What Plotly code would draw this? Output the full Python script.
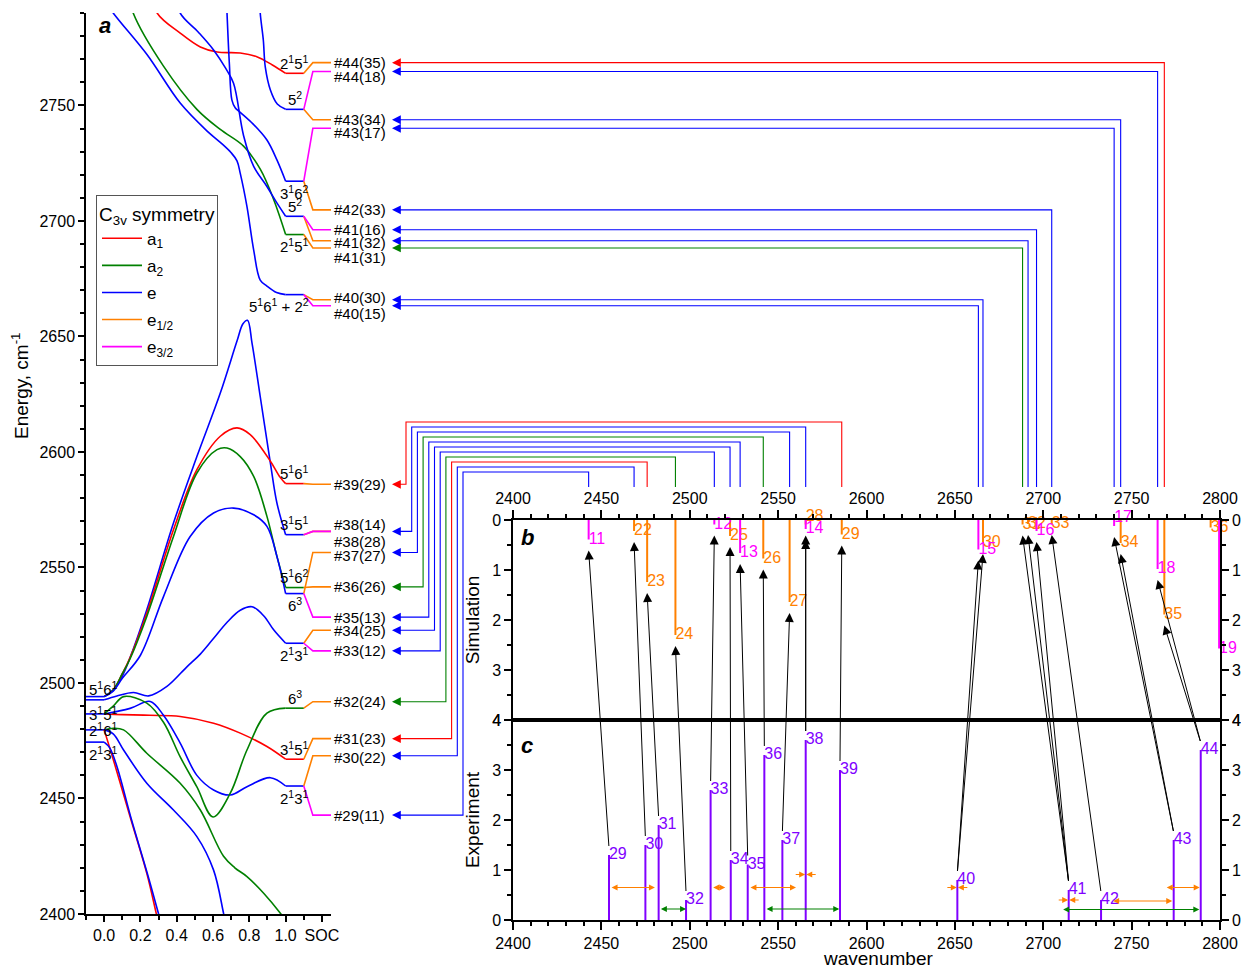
import plotly.graph_objects as go

W, H = 1249, 969      # browser window
OFF = 8               # default page margin of the html body

# ------------------------------------------------------------------
# DATA
# ------------------------------------------------------------------
SYM_COLOR = {'a1': '#FF0000', 'a2': '#008000', 'e': '#0000FF',
             'e1/2': '#FF8000', 'e3/2': '#FF00FF'}
EXP_COLOR = '#8000FF'

# Panel a : zero-order levels at the left edge (x = 0)
START_E = [2494.1, 2492.7, 2486.6, 2479.7, 2474.4]
START_LABEL = ['5<sup>1</sup>6<sup>1</sup>', '', '3<sup>1</sup>5<sup>1</sup>',
               '2<sup>1</sup>6<sup>1</sup>', '2<sup>1</sup>3<sup>1</sup>']
START_LABEL_SHIFT = [8, 0, 0, 0, -11]

# Panel a : correlation curves (x = coupling parameter, E = energy / cm-1)
UB1_X = [0.0, 0.05, 0.236, 0.419, 0.566, 0.64, 0.70, 0.732, 0.75, 0.787, 0.824, 0.86, 0.897, 0.95, 1.0]
UB1_E = [2796, 2790, 2772, 2751, 2739, 2734, 2729.5, 2726, 2720.6, 2706.2, 2687.4, 2674.4, 2671.8, 2669, 2668.1]
UB3_X = [0.672, 0.677, 0.69, 0.704, 0.722, 0.75, 0.82, 0.897, 0.952, 1.0]
UB3_E = [2800, 2790, 2768, 2752.3, 2749, 2747, 2742, 2735, 2726.4, 2717.2]
UB2_X = [0.39, 0.419, 0.518, 0.603, 0.67, 0.713, 0.768, 0.824, 0.897, 0.95, 1.0]
UB2_E = [2800, 2790, 2781.8, 2774, 2766, 2759.6, 2737, 2723.6, 2714.9, 2708, 2702.0]
UB4_X = [0.855, 0.86, 0.877, 0.888, 0.916, 0.954, 1.0]
UB4_E = [2800, 2790, 2778.3, 2766.6, 2756.7, 2750.6, 2748.3]
UG_X = [0.13, 0.16, 0.327, 0.511, 0.64, 0.768, 0.861, 0.934, 1.0]
UG_E = [2800, 2790, 2767, 2748.3, 2739.6, 2732.4, 2722.3, 2709.3, 2694.1]
UR_X = [0.26, 0.292, 0.419, 0.53, 0.623, 0.75, 0.844, 0.927, 1.0]
UR_E = [2800, 2790, 2781.3, 2775.3, 2773.1, 2772.7, 2771, 2767.5, 2763.9]

LB1_X = [0.0, 0.05, 0.1, 0.143, 0.235, 0.382, 0.511, 0.64, 0.732, 0.765, 0.79, 0.815, 0.86, 0.916, 0.952, 1.0]
LB1_E = [2494.1, 2497, 2503, 2511, 2531.7, 2569.2, 2598, 2625.5, 2648, 2655.5, 2657, 2647, 2624, 2595.2, 2577.9, 2564.2]
LR_X = [0.0, 0.05, 0.1, 0.143, 0.235, 0.382, 0.511, 0.64, 0.732, 0.805, 0.916, 0.97, 1.0]
LR_E = [2494.1, 2497, 2504, 2511, 2530.2, 2566.3, 2592.3, 2606.8, 2610.4, 2607.5, 2596, 2589, 2586.3]
LG_X = [0.0, 0.05, 0.1, 0.143, 0.235, 0.382, 0.511, 0.622, 0.677, 0.75, 0.824, 0.897, 0.952, 1.0]
LG_E = [2494.1, 2497, 2504, 2510.5, 2528.8, 2563.4, 2590.9, 2601, 2601.7, 2598, 2589.4, 2572.1, 2554.8, 2541.3]
LB2_X = [0.0, 0.05, 0.1, 0.2, 0.327, 0.474, 0.603, 0.713, 0.824, 0.897, 0.952, 1.0]
LB2_E = [2494.1, 2496.5, 2502, 2512, 2537.4, 2563.4, 2573.6, 2575.7, 2572.8, 2567.8, 2554.8, 2538.7]
LB3_X = [0.0, 0.07, 0.162, 0.245, 0.346, 0.456, 0.53, 0.6, 0.68, 0.75, 0.815, 0.88, 0.934, 1.0]
LB3_E = [2492.7, 2494.4, 2495.9, 2494.4, 2498.5, 2507, 2512.5, 2519, 2526.5, 2531.5, 2533, 2529, 2523, 2517.2]
LRF_X = [0.0, 0.1, 0.25, 0.419, 0.603, 0.75, 0.897, 1.0]
LRF_E = [2486.6, 2486.3, 2486, 2485.5, 2482.6, 2478.3, 2472.5, 2467.0]
LBW_X = [0.0, 0.143, 0.254, 0.327, 0.419, 0.511, 0.603, 0.695, 0.787, 0.916, 1.0]
LBW_E = [2486.6, 2489, 2492, 2486, 2474, 2460, 2453.7, 2451.5, 2455.1, 2459, 2455.4]
LGV_X = [0.0, 0.05, 0.107, 0.235, 0.327, 0.419, 0.511, 0.6, 0.695, 0.787, 0.897, 1.0]
LGV_E = [2486.6, 2490, 2494.1, 2491.3, 2483, 2468, 2455, 2442, 2452.3, 2471, 2486.9, 2489.1]
LGD_X = [0.0, 0.051, 0.107, 0.235, 0.419, 0.53, 0.658, 0.72, 0.787, 0.879, 0.971, 1.0]
LGD_E = [2479.7, 2480.4, 2479.7, 2469.6, 2456.6, 2445, 2425, 2420, 2416.2, 2409, 2400.3, 2397]
LBM_X = [0.0, 0.05, 0.107, 0.235, 0.382, 0.511, 0.603, 0.658, 0.68]
LBM_E = [2479.7, 2478, 2471, 2456.6, 2445, 2433.5, 2419, 2400.3, 2392]
LRS_X = [0.0, 0.051, 0.143, 0.235, 0.287, 0.3]
LRS_E = [2479.7, 2466.7, 2442.1, 2417.6, 2400.3, 2396]
LBS_X = [0.0, 0.03, 0.07, 0.15, 0.24, 0.3, 0.31]
LBS_E = [2474.4, 2472, 2464, 2441, 2417, 2400, 2397]

CURVES = [('e', UB1_X, UB1_E), ('a2', UG_X, UG_E), ('a1', UR_X, UR_E),
          ('e', UB2_X, UB2_E), ('e', UB3_X, UB3_E), ('e', UB4_X, UB4_E),
          ('e', LB1_X, LB1_E), ('a1', LR_X, LR_E), ('a2', LG_X, LG_E),
          ('e', LB2_X, LB2_E), ('e', LB3_X, LB3_E), ('a1', LRF_X, LRF_E),
          ('e', LBW_X, LBW_E), ('a2', LGV_X, LGV_E), ('a2', LGD_X, LGD_E),
          ('e', LBM_X, LBM_E), ('a1', LRS_X, LRS_E), ('e', LBS_X, LBS_E)]

# Panel a : final (x = 1) levels without spin-orbit coupling
PARENT_E = [2763.9, 2748.3, 2717.2, 2702.0, 2694.1, 2668.1, 2586.3, 2564.2,
            2541.3, 2538.7, 2517.2, 2489.1, 2467.0, 2455.4]
PARENT_SYM = ['a1', 'e', 'e', 'e', 'a2', 'e', 'a1', 'e', 'a2', 'e', 'e', 'a2', 'a1', 'e']
PARENT_LABEL = ['2<sup>1</sup>5<sup>1</sup>', '5<sup>2</sup>', '3<sup>1</sup>6<sup>2</sup>',
                '5<sup>2</sup>', '2<sup>1</sup>5<sup>1</sup>', '5<sup>1</sup>6<sup>1</sup> + 2<sup>2</sup>',
                '5<sup>1</sup>6<sup>1</sup>', '3<sup>1</sup>5<sup>1</sup>', '5<sup>1</sup>6<sup>2</sup>',
                '6<sup>3</sup>', '2<sup>1</sup>3<sup>1</sup>', '6<sup>3</sup>',
                '3<sup>1</sup>5<sup>1</sup>', '2<sup>1</sup>3<sup>1</sup>']
PARENT_LABEL_SIDE = [1, 1, -1, 1, -1, -1, 1, 1, 1, -1, -1, 1, 1, -1]

# Panel a : spin-orbit (SOC) levels; id = number in parentheses
SOC_NAME = ['#44(35)', '#44(18)', '#43(34)', '#43(17)', '#42(33)', '#41(16)', '#41(32)',
            '#41(31)', '#40(30)', '#40(15)', '#39(29)', '#38(14)', '#38(28)', '#37(27)',
            '#36(26)', '#35(13)', '#34(25)', '#33(12)', '#32(24)', '#31(23)', '#30(22)', '#29(11)']
SOC_ID = [35, 18, 34, 17, 33, 16, 32, 31, 30, 15, 29, 14, 28, 27, 26, 13, 25, 12, 24, 23, 22, 11]
SOC_E = [2768.5, 2764.7, 2743.8, 2740.1, 2704.8, 2696.2, 2691.4, 2688.3, 2665.9, 2663.3,
         2586.0, 2565.6, 2565.6, 2556.5, 2541.6, 2528.5, 2522.8, 2513.9, 2491.9, 2475.9,
         2468.5, 2442.8]
SOC_SYM = ['e1/2', 'e3/2', 'e1/2', 'e3/2', 'e1/2', 'e3/2', 'e1/2', 'e1/2', 'e1/2', 'e3/2',
           'e1/2', 'e3/2', 'e1/2', 'e1/2', 'e1/2', 'e3/2', 'e1/2', 'e3/2', 'e1/2', 'e1/2',
           'e1/2', 'e3/2']
SOC_PARENT = [0, 1, 1, 2, 2, 3, 3, 4, 5, 5, 6, 7, 7, 9, 8, 9, 10, 10, 11, 12, 13, 13]
SOC_LABEL_NUDGE = [0, -5, 0, -4, 0, 0, -2, -10, 2, -8, 0, 7, -10, -3, 0, 0, 0, 0, 0, 0, -2, 0]
SOC_ARROW = [True] * 12 + [False] + [True] * 9

# Panel b : simulated stick spectrum (intensity)
SIM_INT = {35: 1.89, 18: 0.98, 34: 0.46, 17: 0.12, 33: 0.08, 16: 0.22, 32: 0.08, 31: 0.09,
           30: 0.46, 15: 0.59, 29: 0.29, 14: 0.18, 28: 0.09, 27: 1.64, 26: 0.77, 13: 0.66,
           25: 0.32, 12: 0.09, 24: 2.30, 23: 1.24, 22: 0.22, 11: 0.39}
EXTRA_SIM_ID = [36, 19]
EXTRA_SIM_WN = [2794.7, 2799.5]
EXTRA_SIM_INT = [0.15, 2.57]
EXTRA_SIM_SYM = ['e1/2', 'e3/2']
SIM_LABEL_ABOVE = [28, 17]   # labels drawn above the stick end

# Panel c : experimental lines
EXP_ID = list(range(29, 45))
EXP_WN = [2454.3, 2474.9, 2482.4, 2497.9, 2511.8, 2523.2, 2532.8, 2542.2, 2552.4,
          2565.6, 2585.0, 2651.4, 2714.4, 2732.7, 2773.8, 2789.1]
EXP_INT = [1.30, 1.50, 1.90, 0.40, 2.60, 1.20, 1.11, 3.30, 1.60, 3.60, 3.00, 0.80,
           0.60, 0.40, 1.60, 3.40]

# Assignments experiment -> simulation
ASSIGN_EXP = [29, 30, 31, 32, 33, 34, 35, 36, 37, 38, 38, 39, 40, 40, 41, 41, 41, 42, 43, 43, 44, 44]
ASSIGN_SIM = [11, 22, 23, 24, 12, 25, 13, 26, 27, 14, 28, 29, 15, 30, 31, 32, 16, 33, 17, 34, 18, 35]

# Splitting markers in panel c
ORANGE_SPAN_LO = [2454.9, 2512.4, 2533.5, 2738.7, 2769.0]
ORANGE_SPAN_HI = [2480.3, 2520.1, 2560.1, 2773.0, 2788.5]
ORANGE_SPAN_Y = [0.65, 0.65, 0.65, 0.38, 0.65]
GREEN_SPAN_LO = [2482.8, 2542.6, 2710.4]
GREEN_SPAN_HI = [2497.9, 2584.6, 2788.3]
GREEN_SPAN_Y = [0.22, 0.22, 0.21]
PINCH_WN = [2565.6, 2651.4, 2714.4]
PINCH_Y = [0.91, 0.65, 0.40]

# ------------------------------------------------------------------
# LAYOUT GEOMETRY (window pixels)
# ------------------------------------------------------------------
A_L, A_R, A_T, A_B = 86, 331, 13, 914
BC_L, BC_R, B_T, BC_M, C_B = 513, 1220, 520, 720, 920
K_L = 360  # connector overlay left edge
A_XR = [-0.1, 1.25]
A_YR = [2400, 2790]
WN_R = [2400, 2800]
K_XR = [WN_R[0] - (BC_L - K_L) * (WN_R[1] - WN_R[0]) / (BC_R - BC_L), WN_R[1]]
FW, FH = W - OFF, H - OFF


def fx(p):
    return (p - OFF) / FW


def fy(p):
    return 1 - (p - OFF) / FH


def e_at(p):  # energy on panel a axis at pixel row p
    return A_YR[0] + (A_B - p) * (A_YR[1] - A_YR[0]) / (A_B - A_T)


def k_at(p):  # connector overlay x value at pixel column p
    return K_XR[0] + (p - K_L) * (K_XR[1] - K_XR[0]) / (BC_R - K_L)


FONT = 'Liberation Sans, Arial, sans-serif'
fig = go.Figure()

# ---------------- panel a curves ----------------
for e0 in START_E:
    fig.add_trace(go.Scatter(x=[-0.1, 0.0], y=[e0, e0], mode='lines',
                             line=dict(color=SYM_COLOR['e'], width=1.6),
                             showlegend=False, hoverinfo='skip'))
for sym, xs, es in CURVES:
    fig.add_trace(go.Scatter(x=xs, y=es, mode='lines',
                             line=dict(color=SYM_COLOR[sym], width=1.6, shape='spline', smoothing=1.0),
                             showlegend=False, hoverinfo='skip'))
for e0, sym in zip(PARENT_E, PARENT_SYM):
    fig.add_trace(go.Scatter(x=[1.0, 1.1], y=[e0, e0], mode='lines',
                             line=dict(color=SYM_COLOR[sym], width=1.6),
                             showlegend=False, hoverinfo='skip'))
for order in ('e1/2', 'e3/2'):
    for e, sym, par in zip(SOC_E, SOC_SYM, SOC_PARENT):
        if sym != order:
            continue
        fig.add_trace(go.Scatter(x=[1.1, 1.15, 1.25], y=[PARENT_E[par], e, e], mode='lines',
                                 line=dict(color=SYM_COLOR[sym], width=1.6),
                                 showlegend=False, hoverinfo='skip'))

# legend entries
LEG_NAMES = {'a1': 'a<sub>1</sub>', 'a2': 'a<sub>2</sub>', 'e': 'e',
             'e1/2': 'e<sub>1/2</sub>', 'e3/2': 'e<sub>3/2</sub>'}
for k in ['a1', 'a2', 'e', 'e1/2', 'e3/2']:
    fig.add_trace(go.Scatter(x=[None], y=[None], mode='lines', name=LEG_NAMES[k],
                             legendgroup=k, line=dict(color=SYM_COLOR[k], width=1.6)))

annotations = []
# labels of zero-order states (left)
for e0, lab, sh in zip(START_E, START_LABEL, START_LABEL_SHIFT):
    if not lab:
        continue
    annotations.append(dict(x=-0.1, y=e0, xref='x', yref='y', text=lab, showarrow=False,
                            xanchor='left', yanchor='middle', xshift=1, yshift=sh,
                            font=dict(size=15)))
# labels of parent states (right)
for e0, lab, side in zip(PARENT_E, PARENT_LABEL, PARENT_LABEL_SIDE):
    xc = 0.965 if '+' in lab else 1.05
    annotations.append(dict(x=xc, y=e0, xref='x', yref='y', text=lab, showarrow=False,
                            xanchor='center', yanchor='middle', yshift=11 * side,
                            font=dict(size=15)))
# SOC labels
for name, e, nud in zip(SOC_NAME, SOC_E, SOC_LABEL_NUDGE):
    annotations.append(dict(x=1.25, y=e, xref='x', yref='y', text=name, showarrow=False,
                            xanchor='left', yanchor='middle', xshift=1, yshift=nud,
                            font=dict(size=15)))

# ---------------- connectors from SOC labels to panel b ----------------
k_tip = k_at(392)
k_start = k_at(397)
e_bottom = e_at(487)
lane = 0
for name, e, par, has in zip(SOC_NAME, SOC_E, SOC_PARENT, SOC_ARROW):
    if not has:
        continue
    col = SYM_COLOR[PARENT_SYM[par]]
    if e > 2600:
        xs = [k_start, e, e]
        ys = [e, e, e_bottom]
    else:
        lx = k_at(406 + lane * 5.7)
        ly = e_at(422 + lane * 5.0)
        xs = [k_start, lx, lx, e, e]
        ys = [e, e, ly, ly, e_bottom]
        lane += 1
    fig.add_trace(go.Scatter(x=xs, y=ys, mode='lines', xaxis='x4', yaxis='y',
                             line=dict(color=col, width=1.1), showlegend=False, hoverinfo='skip'))
    annotations.append(dict(x=k_tip, y=e, ax=k_at(402), ay=e, xref='x4', yref='y',
                            axref='x4', ayref='y', text='', showarrow=True, arrowhead=2,
                            arrowsize=1.6, arrowwidth=1.1, arrowcolor=col, standoff=0))

# ---------------- panel b : simulation sticks ----------------
sim_wn = {i: e for i, e in zip(SOC_ID, SOC_E)}
sim_sym = {i: s for i, s in zip(SOC_ID, SOC_SYM)}
for i, w, v, s in zip(EXTRA_SIM_ID, EXTRA_SIM_WN, EXTRA_SIM_INT, EXTRA_SIM_SYM):
    sim_wn[i] = w
    SIM_INT[i] = v
    sim_sym[i] = s
for s in ('e1/2', 'e3/2'):
    ids = [i for i in SIM_INT if sim_sym[i] == s]
    xs, ys = [], []
    for i in ids:
        xs += [sim_wn[i], sim_wn[i], None]
        ys += [0, SIM_INT[i], None]
    fig.add_trace(go.Scatter(x=xs, y=ys, mode='lines', xaxis='x2', yaxis='y2',
                             line=dict(color=SYM_COLOR[s], width=2), showlegend=False,
                             hoverinfo='skip'))
    fig.add_trace(go.Scatter(x=[sim_wn[i] for i in ids], y=[SIM_INT[i] for i in ids],
                             mode='text', text=[str(i) for i in ids],
                             textposition=['top right' if i in SIM_LABEL_ABOVE else 'middle right'
                                           for i in ids],
                             textfont=dict(color=SYM_COLOR[s], size=16), xaxis='x2', yaxis='y2',
                             cliponaxis=False, showlegend=False, hoverinfo='skip'))

# ---------------- panel c : experiment sticks ----------------
xs, ys = [], []
for w, v in zip(EXP_WN, EXP_INT):
    xs += [w, w, None]
    ys += [0, v, None]
fig.add_trace(go.Scatter(x=xs, y=ys, mode='lines', xaxis='x3', yaxis='y3',
                         line=dict(color=EXP_COLOR, width=2), showlegend=False, hoverinfo='skip'))
fig.add_trace(go.Scatter(x=EXP_WN, y=EXP_INT, mode='text', text=[str(i) for i in EXP_ID],
                         textposition='middle right', textfont=dict(color=EXP_COLOR, size=16),
                         xaxis='x3', yaxis='y3', cliponaxis=False, showlegend=False,
                         hoverinfo='skip'))

# invisible traces so that the auxiliary axes exist
for xa, ya in [('x2', 'y4'), ('x3', 'y5'), ('x3', 'y6')]:
    fig.add_trace(go.Scatter(x=[None], y=[None], xaxis=xa, yaxis=ya, showlegend=False))

# assignment arrows experiment -> simulation (y6 spans b and c: c = v, b = 8 - v)
exp_wn = dict(zip(EXP_ID, EXP_WN))
exp_int = dict(zip(EXP_ID, EXP_INT))
for ie, isim in zip(ASSIGN_EXP, ASSIGN_SIM):
    annotations.append(dict(x=sim_wn[isim], y=8 - (SIM_INT[isim] + 0.22),
                            ax=exp_wn[ie], ay=exp_int[ie] + 0.15,
                            xref='x3', yref='y6', axref='x3', ayref='y6', text='',
                            showarrow=True, arrowhead=2, arrowsize=1.8, arrowwidth=1,
                            arrowcolor='black', standoff=0))

# splitting markers
for lo, hi, yv in zip(ORANGE_SPAN_LO, ORANGE_SPAN_HI, ORANGE_SPAN_Y):
    annotations.append(dict(x=hi, y=yv, ax=lo, ay=yv, xref='x3', yref='y3', axref='x3',
                            ayref='y3', text='', showarrow=True, arrowhead=2, startarrowhead=2,
                            arrowside='end+start', arrowsize=1, arrowwidth=1.2,
                            arrowcolor=SYM_COLOR['e1/2'], standoff=0, startstandoff=0))
for lo, hi, yv in zip(GREEN_SPAN_LO, GREEN_SPAN_HI, GREEN_SPAN_Y):
    annotations.append(dict(x=hi, y=yv, ax=lo, ay=yv, xref='x3', yref='y3', axref='x3',
                            ayref='y3', text='', showarrow=True, arrowhead=2, startarrowhead=2,
                            arrowside='end+start', arrowsize=1, arrowwidth=1.2,
                            arrowcolor=SYM_COLOR['a2'], standoff=0, startstandoff=0))
for w, yv in zip(PINCH_WN, PINCH_Y):
    for d in (-1, 1):
        annotations.append(dict(x=w + 0.3 * d, y=yv, ax=w + 6.5 * d, ay=yv, xref='x3', yref='y3',
                                axref='x3', ayref='y3', text='', showarrow=True, arrowhead=2,
                                arrowsize=1, arrowwidth=1.2, arrowcolor=SYM_COLOR['e1/2'],
                                standoff=0))

# panel letters
for t, px_, py_ in [('a', 105, 25), ('b', 527, 537), ('c', 527, 745)]:
    annotations.append(dict(x=fx(px_), y=fy(py_), xref='paper', yref='paper',
                            text='<b><i>%s</i></b>' % t, showarrow=False,
                            font=dict(size=22), xanchor='center', yanchor='middle'))

# axis titles placed as in the reference
annotations.append(dict(x=fx(20), y=fy(386), xref='paper', yref='paper', textangle=-90,
                        text='Energy, cm<sup>-1</sup>', showarrow=False,
                        font=dict(size=19), xanchor='center', yanchor='middle'))
annotations.append(dict(x=fx(878), y=fy(958), xref='paper', yref='paper',
                        text='wavenumber', showarrow=False,
                        font=dict(size=19), xanchor='center', yanchor='middle'))

axis_common = dict(showline=True, linecolor='black', linewidth=1.5, ticks='outside',
                   tickwidth=1.5, tickcolor='black', showgrid=False, zeroline=False,
                   tickfont=dict(size=16), automargin=False)
minor_common = dict(ticklen=4, tickwidth=1.5, ticks='outside', tickcolor='black')

fig.update_layout(
    width=FW, height=FH, margin=dict(l=0, r=0, t=0, b=0, autoexpand=False),
    paper_bgcolor='white', plot_bgcolor='rgba(0,0,0,0)',
    font=dict(family=FONT, size=15, color='black'),
    showlegend=True,
    legend=dict(x=fx(96), y=fy(195), xanchor='left', yanchor='top',
                bordercolor='#555555', borderwidth=1, bgcolor='white',
                font=dict(size=17), title=dict(text='C<sub>3v</sub> symmetry', font=dict(size=19)),
                tracegroupgap=2, itemwidth=40),
    xaxis=dict(domain=[fx(A_L), fx(A_R)], range=A_XR, anchor='y',
               tickvals=[0, 0.2, 0.4, 0.6, 0.8, 1.0, 1.2],
               ticktext=['0.0', '0.2', '0.4', '0.6', '0.8', '1.0', 'SOC'], ticklen=6,
               minor=dict(tickvals=[-0.1, 0.1, 0.3, 0.5, 0.7, 0.9, 1.1], **minor_common),
               **axis_common),
    yaxis=dict(domain=[fy(A_B), fy(A_T)], range=A_YR, anchor='x', tick0=2400, dtick=50,
               ticklen=6, minor=dict(dtick=10, **minor_common), **axis_common),
    xaxis2=dict(domain=[fx(BC_L), fx(BC_R)], range=WN_R, anchor='y2', side='top', mirror=True,
                tick0=2400, dtick=50, ticklen=8, minor=dict(dtick=10, **minor_common),
                **axis_common),
    yaxis2=dict(domain=[fy(BC_M), fy(B_T)], range=[4, 0], anchor='x2', dtick=1, ticklen=7,
                minor=dict(dtick=0.5, **minor_common),
                title=dict(text='Simulation', font=dict(size=19), standoff=7), **axis_common),
    yaxis4=dict(range=[4, 0], anchor='x2', overlaying='y2', side='right', dtick=1, ticklen=7,
                minor=dict(dtick=0.5, **minor_common), **axis_common),
    xaxis3=dict(domain=[fx(BC_L), fx(BC_R)], range=WN_R, anchor='y3', mirror=True,
                tick0=2400, dtick=50, ticklen=8, minor=dict(dtick=10, **minor_common),
                **axis_common),
    yaxis3=dict(domain=[fy(C_B), fy(BC_M)], range=[0, 4], anchor='x3', dtick=1, ticklen=7,
                minor=dict(dtick=0.5, **minor_common),
                title=dict(text='Experiment', font=dict(size=19), standoff=7), **axis_common),
    yaxis5=dict(range=[0, 4], anchor='x3', overlaying='y3', side='right', dtick=1, ticklen=7,
                minor=dict(dtick=0.5, **minor_common), **axis_common),
    xaxis4=dict(domain=[fx(K_L), fx(BC_R)], range=K_XR, anchor='y', visible=False,
                automargin=False),
    yaxis6=dict(domain=[fy(C_B), fy(B_T)], range=[0, 8], anchor='x3', visible=False,
                automargin=False),
    annotations=annotations,
)

fig.write_html('out.html')
